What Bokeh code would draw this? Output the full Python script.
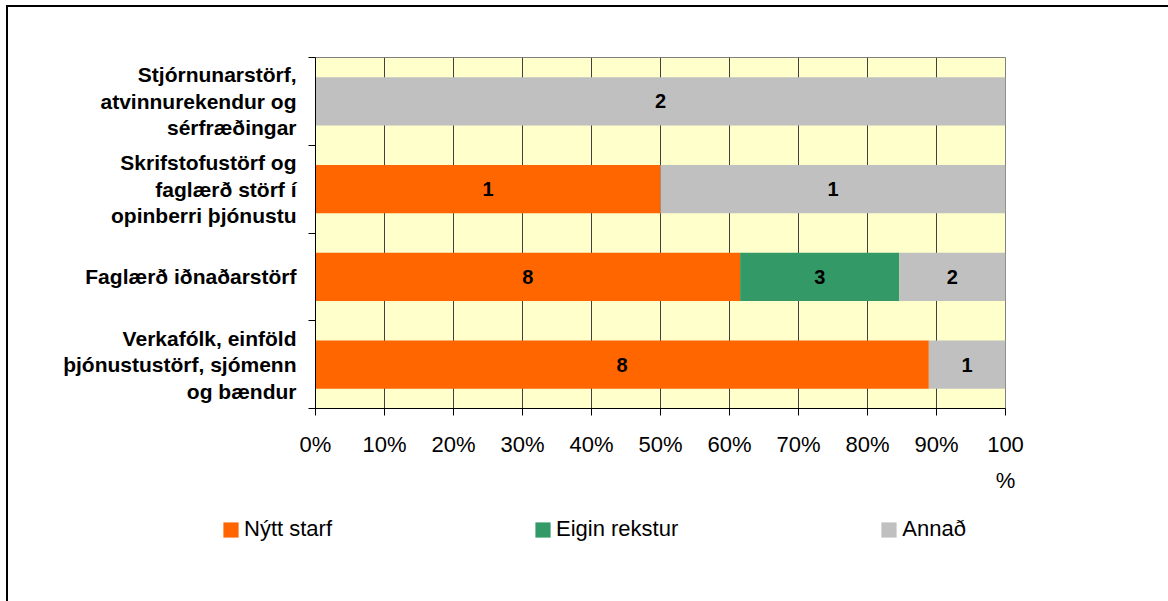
from bokeh.plotting import figure
from bokeh.layouts import column
from bokeh.models import (ColumnDataSource, Range1d, FixedTicker, Legend, LegendItem)
from bokeh.core.properties import value
from bokeh.embed import file_html
from bokeh.resources import INLINE

# ---- data (bottom to top) ----
categories = [
    "Verkafólk, einföld\nþjónustustörf, sjómenn\nog bændur",
    "Faglærð iðnaðarstörf",
    "Skrifstofustörf og\nfaglærð störf í\nopinberri þjónustu",
    "Stjórnunarstörf,\natvinnurekendur og\nsérfræðingar",
]
series_names = ["Nýtt starf", "Eigin rekstur", "Annað"]
nytt_starf = [8, 8, 1, 0]
eigin_rekstur = [0, 3, 0, 0]
annad = [1, 2, 1, 2]
x_ticks = [0, 10, 20, 30, 40, 50, 60, 70, 80, 90, 100]
colors = ["#FF6600", "#339966", "#C0C0C0"]

series = [nytt_starf, eigin_rekstur, annad]
totals = [sum(v) for v in zip(*series)]
ypos = [i + 0.5 for i in range(len(categories))]
keys = ["s0", "s1", "s2"]
data = {"y": ypos}
for k, s in zip(keys, series):
    data[k] = [100.0 * v / t for v, t in zip(s, totals)]
source = ColumnDataSource(data)

# value labels at segment centres
lx, ly, lt = [], [], []
for i in range(len(categories)):
    left = 0.0
    for k, s in zip(keys, series):
        w = data[k][i]
        if s[i] > 0:
            lx.append(left + w / 2)
            ly.append(ypos[i])
            lt.append(str(s[i]))
        left += w
lab_src = ColumnDataSource(dict(x=lx, y=ly, t=lt))

W = 1168
p = figure(width=W, height=500, output_backend="svg", toolbar_location=None,
           x_range=Range1d(0, 100), y_range=Range1d(0, len(categories)),
           min_border_left=315, min_border_right=163, min_border_top=57,
           min_border_bottom=92)
p.frame_align = False
p.background_fill_color = "#FFFFCC"
p.border_fill_color = None
p.outline_line_color = "#808080"

rs = p.hbar_stack(keys, y="y", height=0.55, color=colors, line_color=None, source=source)

p.text(x="x", y="y", text="t", source=lab_src, text_align="center",
       text_baseline="middle", text_font=value("Liberation Sans"),
       text_font_style="bold", text_font_size="20px", text_color="black")

# x axis
p.xaxis.ticker = FixedTicker(ticks=x_ticks)
ov = {t: f"{t}%" for t in x_ticks}
ov[100] = "100\n%"
p.xaxis.major_label_overrides = ov
p.xaxis.major_label_text_font = "Liberation Sans"
p.xaxis.major_label_text_font_size = "22px"
p.xaxis.major_label_text_color = "black"
p.xaxis.major_label_text_line_height = 1.45
p.xaxis.major_tick_in = 0
p.xaxis.major_tick_out = 7
p.xaxis.minor_tick_out = 0
p.xaxis.minor_tick_in = 0
p.xaxis.major_label_standoff = 16
p.xaxis.axis_line_color = "black"
p.xaxis.major_tick_line_color = "black"

# y axis
p.yaxis.ticker = FixedTicker(ticks=ypos, minor_ticks=list(range(len(categories) + 1)))
p.yaxis.major_label_overrides = {y: c for y, c in zip(ypos, categories)}
p.yaxis.major_label_text_font = "Liberation Sans"
p.yaxis.major_label_text_font_style = "bold"
p.yaxis.major_label_text_font_size = "21px"
p.yaxis.major_label_text_color = "black"
p.yaxis.major_label_text_line_height = 1.15
p.yaxis.major_tick_in = 0
p.yaxis.major_tick_out = 0
p.yaxis.minor_tick_in = 0
p.yaxis.minor_tick_out = 7
p.yaxis.minor_tick_line_color = "black"
p.yaxis.major_label_standoff = 12
p.yaxis.axis_line_color = "black"

p.xgrid.ticker = FixedTicker(ticks=x_ticks[1:-1])
p.xgrid.grid_line_color = "#404040"
p.ygrid.grid_line_color = None

# legend strip (separate figure below the chart)
LH = 101
leg = figure(width=W, height=LH, output_backend="svg", toolbar_location=None,
             x_range=Range1d(0, 1), y_range=Range1d(0, 1),
             min_border=0, x_axis_type=None, y_axis_type=None)
leg.frame_align = False
leg.grid.visible = False
leg.outline_line_color = None
leg.background_fill_color = None
leg.border_fill_color = None
nan = float("nan")
lrs = [leg.hbar(y=[nan], right=[nan], left=[nan], height=1, color=c, line_color=None)
       for c in colors]
legend = Legend(items=[LegendItem(label=n, renderers=[r]) for n, r in zip(series_names, lrs)],
                location=(221, 59), orientation="horizontal", spacing=201,
                padding=0, margin=0, border_line_color=None, background_fill_alpha=0,
                glyph_width=19, glyph_height=19, label_standoff=4,
                label_text_font="Liberation Sans", label_text_font_size="22px",
                label_text_color="black")
leg.add_layout(legend, "center")

layout = column(p, leg, spacing=0,
                styles={"box-shadow": "inset 6px 5px 0 0 white, inset 8px 7px 0 0 black"})

open("out.html", "w").write(file_html(layout, INLINE))
